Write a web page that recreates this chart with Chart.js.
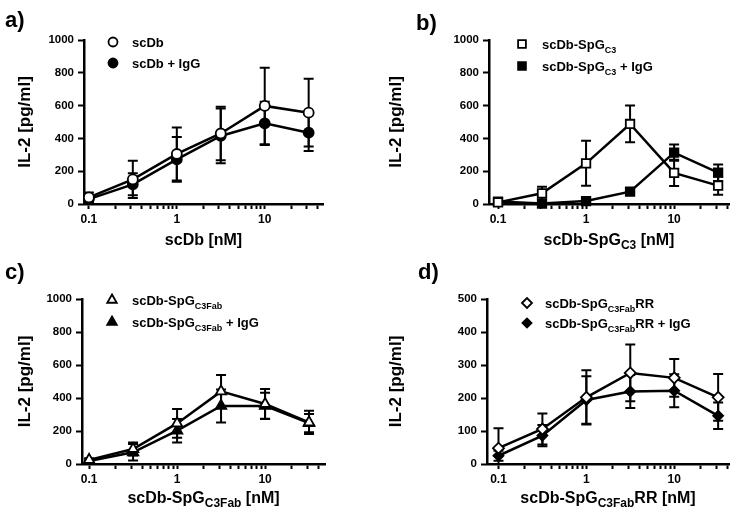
<!DOCTYPE html>
<html>
<head>
<meta charset="utf-8">
<script src="https://cdn.jsdelivr.net/npm/chart.js@4/dist/chart.umd.min.js"></script>
<style>
  html, body { margin: 0; padding: 0; background: #fff; }
  #wrap { position: relative; width: 742px; height: 515px; overflow: hidden; }
  .pane { position: absolute; }
</style>
</head>
<body>
<div id="wrap">
  <div class="pane" style="left:0;top:0;width:371px;height:257px"><canvas id="ca"></canvas></div>
  <div class="pane" style="left:371px;top:0;width:371px;height:257px"><canvas id="cb"></canvas></div>
  <div class="pane" style="left:0;top:257px;width:371px;height:258px"><canvas id="cc"></canvas></div>
  <div class="pane" style="left:371px;top:257px;width:371px;height:258px"><canvas id="cd"></canvas></div>
</div>
<script>
// ---------- DATA ----------
const CONC = [0.1, 0.316, 1, 3.16, 10, 31.6];           // nM
const X_TICKS = [0.1,0.2,0.3,0.4,0.5,0.6,0.7,0.8,0.9,1,2,3,4,5,6,7,8,9,10,20,30,40];
const X_LABELED = [0.1, 1, 10];

// a) scDb
const A_OPEN = [40, 150, 305, 430, 598, 557];
const A_OPEN_SD = [30, 114, 162, 163, 233, 207];
const A_FILL = [30, 120, 272, 415, 492, 435];
const A_FILL_SD = [20, 67, 137, 167, 132, 112];
// b) scDb-SpG C3
const B_OPEN = [10, 65, 248, 488, 190, 112];
const B_OPEN_SD = [10, 40, 137, 112, 80, 55];
const B_FILL = [15, 3, 18, 75, 313, 191];
const B_FILL_SD = [5, 3, 5, 8, 50, 50];
// c) scDb-SpG C3Fab
const C_OPEN = [25, 91, 246, 440, 364, 252];
const C_OPEN_SD = [10, 40, 87, 100, 90, 70];
const C_FILL = [18, 71, 202, 352, 352, 248];
const C_FILL_SD = [8, 50, 71, 100, 80, 55];
// d) scDb-SpG C3Fab RR
const D_OPEN = [48, 106, 202, 276, 261, 202];
const D_OPEN_SD = [60, 47, 82, 86, 57, 71];
const D_FILL = [25, 86, 194, 220, 222, 146];
const D_FILL_SD = [15, 32, 72, 50, 50, 40];

const Y_TICKS_1000 = [0, 200, 400, 600, 800, 1000];
const Y_TICKS_500 = [0, 100, 200, 300, 400, 500];

const FONT = "'Liberation Sans', Arial, Helvetica, sans-serif";

// ---------- helpers ----------
function richWidth(ctx, segs, size) {
  let w = 0;
  for (const s of segs) {
    ctx.font = 'bold ' + (s.sub ? Math.round(size * 0.72) : size) + 'px ' + FONT;
    w += ctx.measureText(s.t).width;
  }
  return w;
}
function drawRich(ctx, segs, x, y, size, align) {
  const w = richWidth(ctx, segs, size);
  let cx = align === 'center' ? x - w / 2 : x;
  ctx.textAlign = 'left';
  ctx.textBaseline = 'alphabetic';
  ctx.fillStyle = '#000';
  for (const s of segs) {
    const fs = s.sub ? Math.round(size * 0.72) : size;
    ctx.font = 'bold ' + fs + 'px ' + FONT;
    ctx.fillText(s.t, cx, s.sub ? y + size * 0.28 : y);
    cx += ctx.measureText(s.t).width;
  }
}
function pts(vals) { return CONC.map((x, i) => ({ x: x, y: vals[i] })); }

function makeChart(id, cfg) {
  const W = 371, H = cfg.h;
  const canvas = document.getElementById(id);
  canvas.width = W; canvas.height = H;
  canvas.style.width = W + 'px'; canvas.style.height = H + 'px';

  const decor = {
    id: 'decor',
    beforeDatasetsDraw(chart) {
      const ctx = chart.ctx, xs = chart.scales.x, ys = chart.scales.y;
      ctx.save();
      ctx.strokeStyle = '#000';
      ctx.lineWidth = 2;
      chart.data.datasets.forEach(ds => {
        ds.sd.forEach((e, i) => {
          const px = xs.getPixelForValue(ds.data[i].x);
          const y1 = ys.getPixelForValue(ds.data[i].y + e);
          const y0 = ys.getPixelForValue(Math.max(ds.data[i].y - e, ys.min));
          ctx.beginPath();
          ctx.moveTo(px, y0); ctx.lineTo(px, y1);
          ctx.moveTo(px - 5, y1); ctx.lineTo(px + 5, y1);
          if (ds.data[i].y - e > ys.min) { ctx.moveTo(px - 5, y0); ctx.lineTo(px + 5, y0); }
          ctx.stroke();
        });
      });
      ctx.restore();
    },
    afterDraw(chart) {
      const ctx = chart.ctx, ca = chart.chartArea;
      ctx.save();
      // panel label
      ctx.font = 'bold 22px ' + FONT;
      ctx.fillStyle = '#000';
      ctx.textAlign = 'left';
      ctx.textBaseline = 'alphabetic';
      ctx.fillText(cfg.panel, cfg.panelX, cfg.panelY);
      // x title
      drawRich(ctx, cfg.xTitle, (ca.left + ca.right) / 2, cfg.xTitleY, 16, 'center');
      // y title
      ctx.save();
      ctx.translate(24, (ca.top + ca.bottom) / 2);
      ctx.rotate(-Math.PI / 2);
      drawRich(ctx, [{ t: 'IL-2 [pg/ml]' }], 0, 6, 17, 'center');
      ctx.restore();
      // legend
      chart.data.datasets.forEach((ds, i) => {
        const ly = cfg.legendY[i];
        ctx.fillStyle = ds.pointBackgroundColor;
        ctx.strokeStyle = '#000';
        ctx.lineWidth = 1.8;
        Chart.helpers.drawPoint(ctx, {
          pointStyle: ds.pointStyle, radius: ds.legendRadius, borderWidth: 1.8, rotation: 0
        }, cfg.legendMarkX, ly);
        drawRich(ctx, ds.legendSegs, cfg.legendTextX, ly + 5, 13, 'left');
      });
      ctx.restore();
    }
  };

  return new Chart(canvas, {
    type: 'line',
    data: {
      datasets: cfg.series.map(s => ({
        data: pts(s.vals),
        sd: s.sd,
        legendSegs: s.legend,
        legendRadius: s.legendRadius,
        borderColor: '#000',
        borderWidth: 2.5,
        pointStyle: s.style,
        pointRadius: s.radius,
        pointHoverRadius: s.radius,
        pointBorderWidth: 1.8,
        pointBorderColor: '#000',
        pointBackgroundColor: s.open ? '#fff' : '#000',
        fill: false,
        tension: 0,
        clip: false
      }))
    },
    options: {
      responsive: false,
      animation: false,
      events: [],
      parsing: true,
      layout: { padding: { left: 0, top: cfg.top, right: W - cfg.right, bottom: 0 } },
      plugins: { legend: { display: false }, tooltip: { enabled: false } },
      scales: {
        x: {
          type: 'logarithmic',
          min: cfg.xmin, max: cfg.xmax,
          afterBuildTicks: sc => { sc.ticks = X_TICKS.filter(v => v <= cfg.xmax).map(v => ({ value: v, major: X_LABELED.includes(v) })); },
          afterFit: sc => { sc.height = H - cfg.bottom; },
          ticks: {
            autoSkip: false, maxRotation: 0, padding: 3,
            color: '#000',
            font: { family: FONT, size: 12, weight: 'bold' },
            callback: v => X_LABELED.includes(v) ? String(v) : ''
          },
          grid: { drawOnChartArea: false, drawTicks: true, tickLength: 5, tickWidth: 2, tickColor: '#000', color: '#000' },
          border: { display: true, color: '#000', width: 2.5 }
        },
        y: {
          type: 'linear',
          min: 0, max: cfg.ymax,
          afterBuildTicks: sc => { sc.ticks = cfg.yTicks.map(v => ({ value: v })); },
          afterFit: sc => { sc.width = cfg.left; },
          ticks: {
            padding: 4, color: '#000',
            font: { family: FONT, size: 11.5, weight: 'bold' },
            callback: v => String(v)
          },
          grid: { drawOnChartArea: false, drawTicks: true, tickLength: 6, tickWidth: 2, tickColor: '#000', color: '#000' },
          border: { display: true, color: '#000', width: 2.5 }
        }
      }
    },
    plugins: [decor]
  });
}

const SUB = (a, b, c) => [{ t: a }, { t: b, sub: true }].concat(c ? [{ t: c }] : []);

makeChart('ca', {
  h: 257, left: 84, top: 40, right: 323, bottom: 204,
  xmin: 0.088, xmax: 46, ymax: 1000, yTicks: Y_TICKS_1000,
  panel: 'a)', panelX: 5, panelY: 27,
  xTitle: [{ t: 'scDb [nM]' }], xTitleY: 245,
  legendY: [42, 63], legendMarkX: 113, legendTextX: 132,
  series: [
    { vals: A_OPEN, sd: A_OPEN_SD, style: 'circle', radius: 5, legendRadius: 4.5, open: true, legend: [{ t: 'scDb' }] },
    { vals: A_FILL, sd: A_FILL_SD, style: 'circle', radius: 5, legendRadius: 4.5, open: false, legend: [{ t: 'scDb + IgG' }] }
  ]
});

makeChart('cb', {
  h: 257, left: 118, top: 40, right: 358, bottom: 204,
  xmin: 0.079, xmax: 42, ymax: 1000, yTicks: Y_TICKS_1000,
  panel: 'b)', panelX: 45, panelY: 30,
  xTitle: SUB('scDb-SpG', 'C3', ' [nM]'), xTitleY: 245,
  legendY: [44, 66], legendMarkX: 151, legendTextX: 171,
  series: [
    { vals: B_OPEN, sd: B_OPEN_SD, style: 'rect', radius: 6, legendRadius: 5.5, open: true, legend: SUB('scDb-SpG', 'C3') },
    { vals: B_FILL, sd: B_FILL_SD, style: 'rect', radius: 6, legendRadius: 5.5, open: false, legend: SUB('scDb-SpG', 'C3', ' + IgG') }
  ]
});

makeChart('cc', {
  h: 258, left: 82, top: 42, right: 325, bottom: 207,
  xmin: 0.083, xmax: 48, ymax: 1000, yTicks: Y_TICKS_1000,
  panel: 'c)', panelX: 5, panelY: 22,
  xTitle: SUB('scDb-SpG', 'C3Fab', ' [nM]'), xTitleY: 246,
  legendY: [43, 65], legendMarkX: 112, legendTextX: 132,
  series: [
    { vals: C_OPEN, sd: C_OPEN_SD, style: 'triangle', radius: 6, legendRadius: 5.5, open: true, legend: SUB('scDb-SpG', 'C3Fab') },
    { vals: C_FILL, sd: C_FILL_SD, style: 'triangle', radius: 6, legendRadius: 5.5, open: false, legend: SUB('scDb-SpG', 'C3Fab', ' + IgG') }
  ]
});

makeChart('cd', {
  h: 258, left: 116, top: 42, right: 358, bottom: 207,
  xmin: 0.074, xmax: 42, ymax: 500, yTicks: Y_TICKS_500,
  panel: 'd)', panelX: 47, panelY: 22,
  xTitle: SUB('scDb-SpG', 'C3Fab', 'RR [nM]'), xTitleY: 246,
  legendY: [46, 66], legendMarkX: 156, legendTextX: 174,
  series: [
    { vals: D_OPEN, sd: D_OPEN_SD, style: 'rectRot', radius: 5.5, legendRadius: 5, open: true, legend: SUB('scDb-SpG', 'C3Fab', 'RR') },
    { vals: D_FILL, sd: D_FILL_SD, style: 'rectRot', radius: 5, legendRadius: 4.5, open: false, legend: SUB('scDb-SpG', 'C3Fab', 'RR + IgG') }
  ]
});
</script>
</body>
</html>
